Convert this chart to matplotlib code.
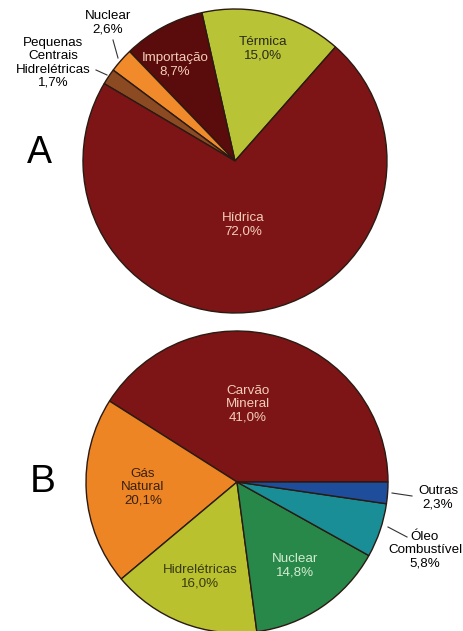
import matplotlib
matplotlib.use('Agg')
import matplotlib.pyplot as plt

# dados - grafico A
nomesA = ['Térmica', 'Importação', 'Nuclear', 'Pequenas\nCentrais\nHidrelétricas', 'Hídrica']
valoresA = [15.0, 8.7, 2.6, 1.7, 72.0]
coresA = ['#b8c436', '#5a0b0c', '#f08a2a', '#8b4a22', '#7d1517']

# dados - grafico B
nomesB = ['Carvão\nMineral', 'Gás\nNatural', 'Hidrelétricas', 'Nuclear', 'Óleo\nCombustível', 'Outras']
valoresB = [41.0, 20.1, 16.0, 14.8, 5.8, 2.3]
coresB = ['#7d1517', '#ee8525', '#b9c12f', '#27884a', '#198e96', '#1e4e9b']

W, H = 464, 631
plt.rcParams['font.family'] = ['Liberation Sans', 'DejaVu Sans']

fig = plt.figure(figsize=(W / 100, H / 100), dpi=100)
ax = fig.add_axes([0, 0, 1, 1])


def pct(v):
    return f'{v:.1f}%'.replace('.', ',')


def Y(y):
    # coordenada da imagem (y para baixo) -> eixo (y para cima)
    return H - y


wp = dict(edgecolor='#2a1a12', linewidth=1.0)
ax.pie(valoresA, colors=coresA, startangle=48.6, counterclock=True,
       center=(235, Y(161)), radius=152, wedgeprops=wp)
ax.pie(valoresB, colors=coresB, startangle=0, counterclock=True,
       center=(237, Y(482)), radius=151, wedgeprops=wp)

ax.set_xlim(0, W)
ax.set_ylim(0, H)
ax.set_aspect('auto')
ax.axis('off')

fs = 9.6
ls = 1.12
claro = '#f4cdb8'
escuro = '#2a2a1a'

# rotulos A
ax.text(263, Y(49), f'{nomesA[0]}\n{pct(valoresA[0])}', ha='center', va='center', fontsize=fs, color=escuro, linespacing=ls)
ax.text(175, Y(65), f'{nomesA[1]}\n{pct(valoresA[1])}', ha='center', va='center', fontsize=fs, color=claro, linespacing=ls)
ax.text(243, Y(225), f'{nomesA[4]}\n{pct(valoresA[4])}', ha='center', va='center', fontsize=fs, color=claro, linespacing=ls)
ax.text(108, Y(23), f'{nomesA[2]}\n{pct(valoresA[2])}', ha='center', va='center', fontsize=fs, color='black', linespacing=ls)
ax.plot([113, 118], [Y(40), Y(58)], color='#333333', lw=0.8)
ax.text(53, Y(63), f'{nomesA[3]}\n{pct(valoresA[3])}', ha='center', va='center', fontsize=fs, color='black', linespacing=ls)
ax.plot([96, 107], [Y(70), Y(75)], color='#333333', lw=0.8)
ax.text(39, Y(153), 'A', ha='center', va='center', fontsize=27, color='black')

# rotulos B
ax.text(248, Y(404), f'{nomesB[0]}\n{pct(valoresB[0])}', ha='center', va='center', fontsize=fs, color=claro, linespacing=ls)
ax.text(143, Y(487), f'{nomesB[1]}\n{pct(valoresB[1])}', ha='center', va='center', fontsize=fs, color='#3a2010', linespacing=ls)
ax.text(200, Y(577), f'{nomesB[2]}\n{pct(valoresB[2])}', ha='center', va='center', fontsize=fs, color='#3a3a10', linespacing=ls)
ax.text(295, Y(566), f'{nomesB[3]}\n{pct(valoresB[3])}', ha='center', va='center', fontsize=fs, color='#d4ecd0', linespacing=ls)
ax.text(438, Y(498), f'{nomesB[5]}\n{pct(valoresB[5])}', ha='center', va='center', fontsize=fs, color='black', linespacing=ls)
ax.plot([392, 412], [Y(493), Y(496)], color='#333333', lw=0.8)
ax.text(425, Y(550), f'{nomesB[4]}\n{pct(valoresB[4])}', ha='center', va='center', fontsize=fs, color='black', linespacing=ls)
ax.plot([388, 407], [Y(527), Y(537)], color='#333333', lw=0.8)
ax.text(43, Y(482), 'B', ha='center', va='center', fontsize=28, color='black')

fig.savefig('out.png', dpi=100, facecolor='white')
